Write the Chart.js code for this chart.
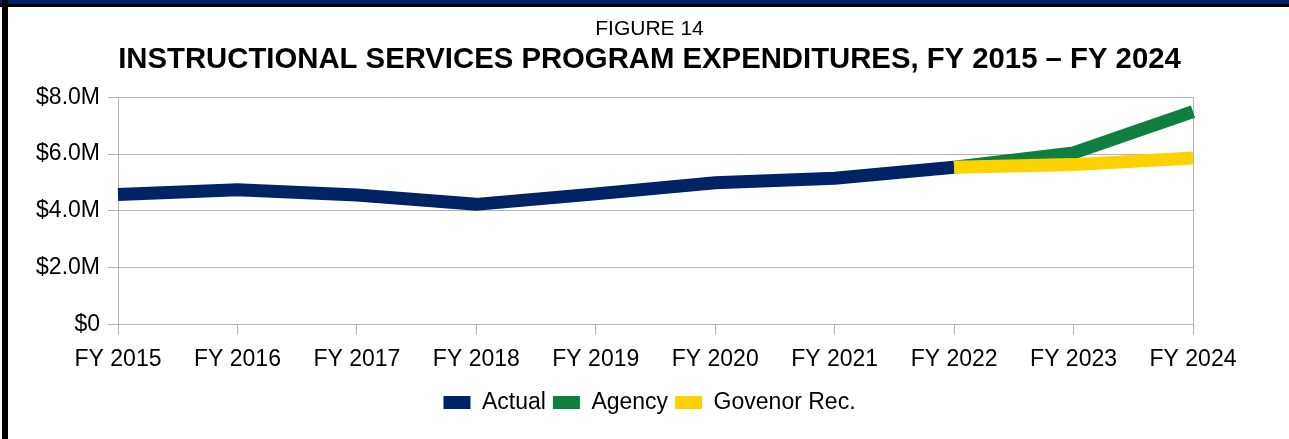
<!DOCTYPE html>
<html>
<head>
<meta charset="utf-8">
<script src="https://cdn.jsdelivr.net/npm/chart.js@4"></script>
<style>
  html, body { margin: 0; padding: 0; background: #fff; }
  body { width: 1289px; height: 439px; position: relative; overflow: hidden; }
  .bande-bleue { position: absolute; left: 0; top: 0; width: 1289px; height: 4px; background: #002366; }
  .bande-noire { position: absolute; left: 0; top: 4px; width: 1289px; height: 3px; background: #000; }
  .bord-gauche { position: absolute; left: 2px; top: 0; width: 6px; height: 439px; background: #000; }
  #graphique { position: absolute; left: 10px; top: 0; }
</style>
</head>
<body>
<div class="bande-bleue"></div>
<div class="bande-noire"></div>
<div class="bord-gauche"></div>
<div id="graphique" style="width:1279px;height:439px"><canvas id="graphique-depenses"></canvas></div>
<script>
const annees = ["FY 2015", "FY 2016", "FY 2017", "FY 2018", "FY 2019", "FY 2020", "FY 2021", "FY 2022", "FY 2023", "FY 2024"];
const reel = [4.58, 4.74, 4.56, 4.23, 4.6, 4.99, 5.15, 5.54, null, null];
const agence = [null, null, null, null, null, null, null, 5.54, 6.04, 7.5];
const gouverneur = [null, null, null, null, null, null, null, 5.54, 5.63, 5.86];
const ticksY = [0, 2, 4, 6, 8];

const police = "'Liberation Sans', Arial, sans-serif";
const gris = "#b3b3b3";

const data = {
  labels: annees,
  datasets: [
    { label: "Govenor Rec.", data: gouverneur, borderColor: "#fdd200", backgroundColor: "#fdd200" },
    { label: "Agency", data: agence, borderColor: "#0e7f3f", backgroundColor: "#0e7f3f" },
    { label: "Actual", data: reel, borderColor: "#002366", backgroundColor: "#002366" },
  ],
};
// on dessine le jaune par-dessus le vert, la légende reste dans l'ordre du rapport
const ordreLegende = ["Actual", "Agency", "Govenor Rec."];

for (let ds of data.datasets) {
  ds.borderWidth = 13;
  ds.pointRadius = 0;
  ds.pointHoverRadius = 0;
  ds.tension = 0;
  ds.spanGaps = false;
  ds.borderCapStyle = "butt";
  ds.borderJoinStyle = "miter";
}

const config = {
  type: "line",
  data: data,
  options: {
    responsive: true,
    maintainAspectRatio: false,
    animation: false,
    layout: { padding: { left: 0, right: 0, top: 0, bottom: 15 } },
    plugins: {
      title: {
        display: true,
        text: "FIGURE 14",
        color: "#000",
        font: { family: police, size: 21, weight: "normal", lineHeight: 1.2 },
        padding: { top: 17, bottom: 0 },
      },
      subtitle: {
        display: true,
        text: "INSTRUCTIONAL SERVICES PROGRAM EXPENDITURES, FY 2015 \u2013 FY 2024",
        color: "#000",
        font: { family: police, size: 29.3, weight: "bold", lineHeight: 1.2 },
        padding: { top: 0, bottom: 20 },
      },
      legend: {
        position: "bottom",
        labels: {
          color: "#000",
          font: { family: police, size: 23 },
          boxWidth: 27,
          boxHeight: 13,
          padding: 7,
          generateLabels: (chart) =>
            Chart.defaults.plugins.legend.labels.generateLabels(chart).map((l) => ({ ...l, lineWidth: 0 })),
          sort: (a, b) => ordreLegende.indexOf(a.text) - ordreLegende.indexOf(b.text),
        },
      },
      tooltip: { enabled: false },
    },
    scales: {
      x: {
        offset: false,
        grid: { drawOnChartArea: false, color: gris, tickLength: 10, lineWidth: 1 },
        border: { color: gris },
        ticks: { color: "#000", font: { family: police, size: 23 }, padding: 11, maxRotation: 0, autoSkip: false },
      },
      y: {
        min: 0,
        max: 8,
        afterFit: (scale) => { scale.width = 108; },
        afterBuildTicks: (scale) => { scale.ticks = ticksY.map((v) => ({ value: v })); },
        grid: { color: gris, tickLength: 10, lineWidth: 1 },
        border: { color: gris },
        ticks: {
          color: "#000",
          font: { family: police, size: 23 },
          padding: 8,
          callback: (v) => (v === 0 ? "$0" : "$" + v.toFixed(1) + "M"),
        },
      },
      y2: {
        position: "right",
        min: 0,
        max: 8,
        afterFit: (scale) => { scale.width = 96; },
        grid: { drawOnChartArea: false, drawTicks: false },
        border: { color: gris },
        ticks: { display: false },
      },
    },
  },
};

new Chart(document.querySelector("#graphique-depenses"), config);
</script>
</body>
</html>
